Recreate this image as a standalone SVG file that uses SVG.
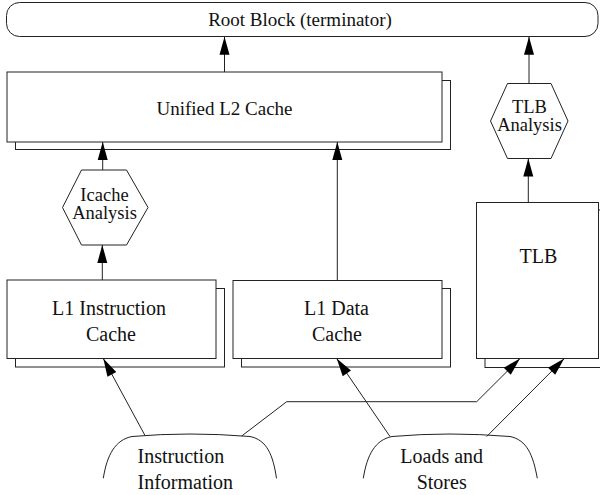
<svg xmlns="http://www.w3.org/2000/svg" width="600" height="495" viewBox="0 0 600 495">
<style>
.box{fill:#fff;stroke:#222;stroke-width:1}
.lbl{font-family:'Liberation Serif','DejaVu Serif',serif;font-size:20px;fill:#111;text-anchor:middle}
.hx{font-size:18.5px}
.sm{font-size:19px}
.conn{fill:none;stroke:#222;stroke-width:1}
</style>
<defs>
<marker id="ah" markerUnits="userSpaceOnUse" markerWidth="18" markerHeight="10" refX="18" refY="5" orient="auto" overflow="visible">
<path d="M0,0 L18,5 L0,10 z" fill="#000"/>
</marker>
</defs>
<rect width="600" height="495" fill="#fff"/>
<g id="root">
<rect class="box" x="6.5" y="2.5" width="591.5" height="34" rx="13" ry="13"/>
<text class="lbl sm" x="300" y="26" font-family="Liberation Serif, serif">Root Block (terminator)</text>
</g>
<g id="l2">
<rect class="box" x="15.5" y="80.5" width="435" height="69"/>
<rect class="box" x="7" y="72" width="435" height="70"/>
<text class="lbl sm" x="224.5" y="115" font-family="Liberation Serif, serif">Unified L2 Cache</text>
</g>
<g id="tlbanalysis">
<polygon class="box" points="507.5,83.5 551,83.5 568,121 551,158.5 507.5,158.5 490.5,121"/>
<text class="lbl hx" x="529.5" y="112.5" font-family="Liberation Serif, serif">TLB</text>
<text class="lbl hx" x="529.5" y="131" font-family="Liberation Serif, serif">Analysis</text>
</g>
<g id="icache">
<polygon class="box" points="81.5,170 126.5,170 148,207.5 126.5,245 81.5,245 62.5,207.5"/>
<text class="lbl hx" x="104.5" y="200.5" font-family="Liberation Serif, serif">Icache</text>
<text class="lbl hx" x="104.5" y="219" font-family="Liberation Serif, serif">Analysis</text>
</g>
<g id="l1i">
<rect class="box" x="15.5" y="288.5" width="209" height="78.5"/>
<rect class="box" x="7" y="280" width="209" height="78.5"/>
<text class="lbl" x="109" y="315" font-family="Liberation Serif, serif">L1 Instruction</text>
<text class="lbl" x="111" y="340.5" font-family="Liberation Serif, serif">Cache</text>
</g>
<g id="l1d">
<rect class="box" x="241.5" y="288.5" width="209" height="78.5"/>
<rect class="box" x="233" y="280.5" width="209" height="78"/>
<text class="lbl" x="336.5" y="315" font-family="Liberation Serif, serif">L1 Data</text>
<text class="lbl" x="337" y="340.5" font-family="Liberation Serif, serif">Cache</text>
</g>
<g id="tlb">
<rect class="box" x="485" y="210" width="125" height="157.5"/>
<rect class="box" x="476.5" y="202.5" width="122" height="156"/>
<text class="lbl" x="538.5" y="262.5" font-family="Liberation Serif, serif">TLB</text>
</g>
<g id="instrinfo">
<path class="conn" d="M103.3,478.3 C107,455 115,440 132,436.5 Q189,431.5 250,436.5 C267,440 273,455 276.5,478.3"/>
<text class="lbl" x="137.5" y="463" style="text-anchor:start" font-family="Liberation Serif, serif">Instruction</text>
<text class="lbl" x="137.5" y="488.5" style="text-anchor:start" font-family="Liberation Serif, serif">Information</text>
</g>
<g id="loads">
<path class="conn" d="M363.3,478.3 C367,455 375,440 392,436.5 Q449,431.5 510,436.5 C527,440 533,455 537.3,478.3"/>
<text class="lbl" x="441.7" y="463.3" font-family="Liberation Serif, serif">Loads and</text>
<text class="lbl" x="441.7" y="489" font-family="Liberation Serif, serif">Stores</text>
</g>
<g id="connectors">
<line class="conn" x1="224.5" y1="72" x2="224.5" y2="36.7" marker-end="url(#ah)"/>
<line class="conn" x1="529" y1="83.5" x2="529" y2="36.7" marker-end="url(#ah)"/>
<line class="conn" x1="102.7" y1="170" x2="102.7" y2="142" marker-end="url(#ah)"/>
<line class="conn" x1="337.3" y1="280.5" x2="337.3" y2="142" marker-end="url(#ah)"/>
<line class="conn" x1="102.3" y1="280" x2="102.3" y2="245" marker-end="url(#ah)"/>
<line class="conn" x1="528.3" y1="202.5" x2="528.3" y2="158.5" marker-end="url(#ah)"/>
<line class="conn" x1="145" y1="435.5" x2="103.3" y2="358.5" marker-end="url(#ah)"/>
<polyline class="conn" points="241.7,436 286.7,401.7 476.7,401.7 520,358.5" marker-end="url(#ah)"/>
<line class="conn" x1="390" y1="436.5" x2="336.7" y2="358.5" marker-end="url(#ah)"/>
<line class="conn" x1="486.7" y1="436.5" x2="564.3" y2="358.5" marker-end="url(#ah)"/>
</g>
</svg>
